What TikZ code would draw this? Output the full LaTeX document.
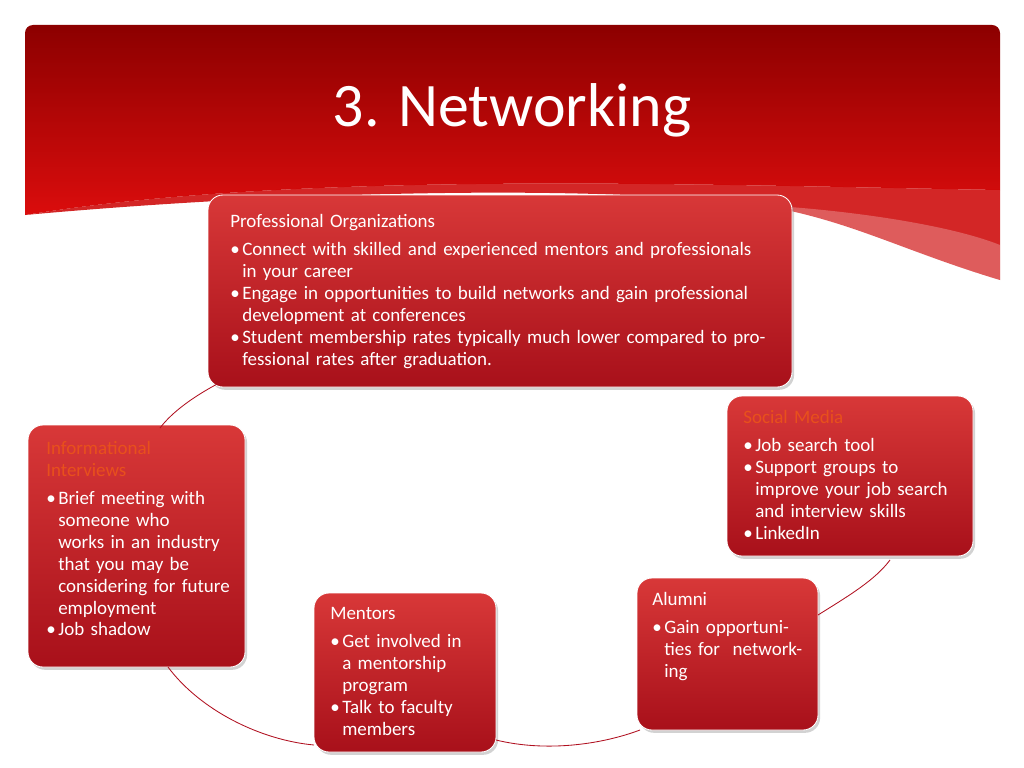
\documentclass[tikz,border=0pt]{standalone}
\usepackage{fontspec}
\setmainfont{Carlito}
\usetikzlibrary{shadows}
\newlength\pxu \setlength\pxu{0.025cm}
\newcommand\bitem{\par\noindent\llap{\makebox[12\pxu][l]{•}}}
\definecolor{boxtop}{HTML}{D83838}
\definecolor{boxbot}{HTML}{A8101A}
\definecolor{orangetitle}{HTML}{E8501C}
\definecolor{linkred}{HTML}{B01020}
\tikzset{
 card/.style={rounded corners=15\pxu, top color=boxtop, bottom color=boxbot, draw=white, line width=0.6pt,
   drop shadow={shadow xshift=1.5pt,shadow yshift=-2pt,opacity=0.35}},
 cardtext/.style={anchor=north west, align=left, text=white, font=\fontsize{13.5pt}{15.6pt}\selectfont, inner sep=0pt},
 link/.style={draw=linkred, line width=0.6pt}
}
\newcommand\cardhead[1]{\hyphenpenalty=10000 \exhyphenpenalty=10000 \noindent\hspace*{-12\pxu}#1\par\vspace{6\pxu}}
\begin{document}
\begin{tikzpicture}[x=0.025cm,y=-0.025cm]
\useasboundingbox (0,0) rectangle (1024,768);
\fill[white] (0,0) rectangle (1024,768);
% header
\shade[top color=red!55!black, bottom color=red!85!black!95] (25,35) [rounded corners=8\pxu] -- (25,25) -- (1000,25) [sharp corners] -- (1000,190)
  .. controls (700,185) and (300,170) .. (25,215) -- cycle;
\fill[red!80!black, opacity=0.85] (25,215) .. controls (300,170) and (700,185) .. (1000,190) -- (1000,280) .. controls (900,250) and (850,220) .. (760,205) .. controls (600,185) and (300,190) .. (25,215);
\fill[white, opacity=0.25] (760,205) .. controls (850,210) and (950,225) .. (1000,245) -- (1000,280) .. controls (900,250) and (850,225) .. (760,205);
\node[text=white, font=\fontsize{44pt}{48pt}\selectfont] (title) at (512,110) {3. Networking};
% boxes
\path[card] (208,195) rectangle (792,387) node[pos=0,inner sep=0pt] (po) {};
\path[card] (727,396) rectangle (973,556) node[pos=0,inner sep=0pt] (sm) {};
\path[card] (637,578) rectangle (818,730) node[pos=0,inner sep=0pt] (al) {};
\path[card] (314,593) rectangle (496,752) node[pos=0,inner sep=0pt] (me) {};
\path[card] (28,425) rectangle (245,667) node[pos=0,inner sep=0pt] (ii) {};
\coordinate (poA) at (225,380); \coordinate (iiA) at (160,428);
\coordinate (iiB) at (168,667); \coordinate (meA) at (314,745);
\coordinate (meB) at (496,740); \coordinate (alA) at (640,730);
\coordinate (alB) at (818,615); \coordinate (smA) at (890,560);
\draw[link] (poA) .. controls (195,395) and (172,412) .. (iiA);
\draw[link] (iiB) .. controls (200,710) and (260,740) .. (meA);
\draw[link] (meB) .. controls (545,752) and (600,745) .. (alA);
\draw[link] (alB) .. controls (850,595) and (875,580) .. (smA);
% texts
\node[cardtext, text width=525\pxu] (pot) at (242,214) {\cardhead{Professional Organizations}
\bitem Connect with skilled and experienced mentors and professionals in your career
\bitem Engage in opportunities to build networks and gain professional development at conferences
\bitem Student membership rates typically much lower compared to professional rates after graduation.};
\node[cardtext, text width=210\pxu] (smt) at (755,410) {\cardhead{\textcolor{orangetitle}{Social Media}}
\bitem Job search tool
\bitem Support groups to improve your job search and interview skills
\bitem LinkedIn};
\node[cardtext, text width=140\pxu] (alt) at (664,592) {\cardhead{Alumni}
\bitem Gain opportunities for \ networking};
\node[cardtext, text width=150\pxu] (met) at (342,607) {\cardhead{Mentors}
\bitem Get involved in a mentorship program
\bitem Talk to faculty members};
\node[cardtext, text width=175\pxu] (iit) at (58,441) {\cardhead{\textcolor{orangetitle}{Informational}}\vspace{-6\pxu}\cardhead{\textcolor{orangetitle}{Interviews}}
\bitem Brief meeting with someone who works in an industry that you may be considering for future employment
\bitem Job shadow};
\end{tikzpicture}
\end{document}
